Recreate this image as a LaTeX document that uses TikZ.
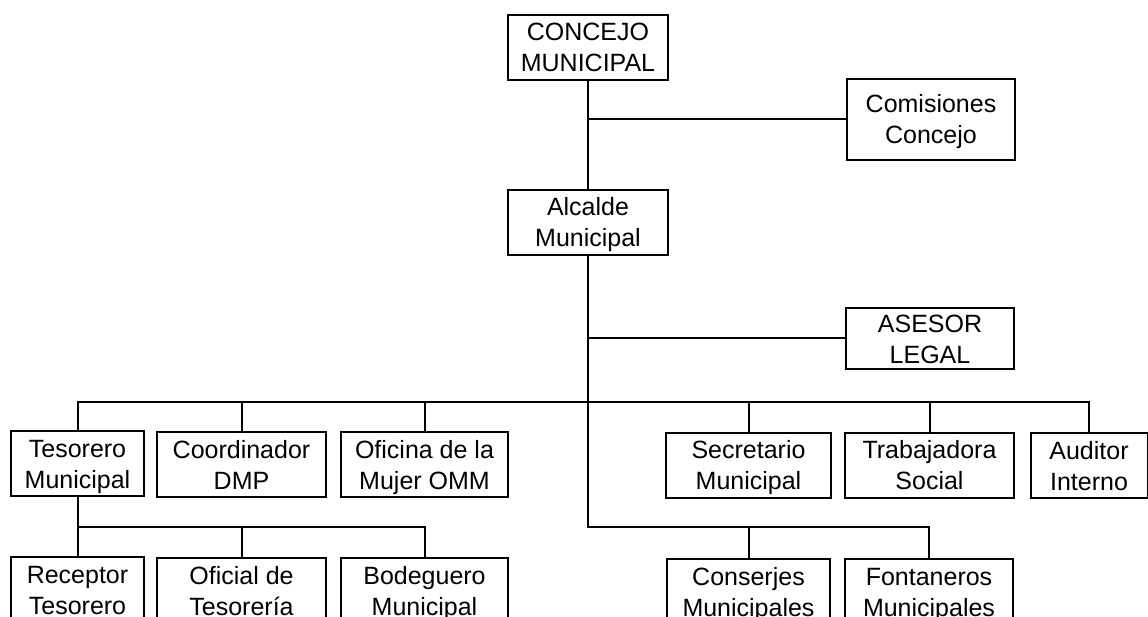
\documentclass[tikz,border=0pt]{standalone}
\usepackage{fontspec}
\setmainfont{Liberation Sans}
\usepackage{xcolor}

\begin{document}
\begin{tikzpicture}[x=1pt, y=-1pt, line width=2pt,
    caja/.style={draw, align=center, inner sep=0pt, minimum height=65pt,
      text height=51pt, text depth=2pt,
      font=\fontsize{25}{31}\selectfont}]
    \useasboundingbox (0,0) rectangle (1148,617);
    \clip (0,0) rectangle (1148,617);
    % direccion
    \node[caja, minimum width=160pt] (concejo) at (588,47.5) {CONCEJO\\MUNICIPAL};
    \node[caja, minimum width=168pt, minimum height=81pt] (comisiones) at (931,119.5) {Comisiones\\Concejo};
    \node[caja, minimum width=160pt] (alcalde) at (588,222.5) {Alcalde\\Municipal};
    \node[caja, minimum width=168pt, minimum height=61pt] (asesor) at (930,338.5) {ASESOR\\LEGAL};
    % primer nivel
    \node[caja, minimum width=133pt] (tesorero) at (77.5,463.5) {Tesorero\\Municipal};
    \node[caja, minimum width=169pt] (coordinador) at (241.5,464.5) {Coordinador\\DMP};
    \node[caja, minimum width=167pt] (oficina) at (424.5,464.5) {Oficina de la\\Mujer OMM};
    \node[caja, minimum width=165pt] (secretario) at (748.5,465) {Secretario\\Municipal};
    \node[caja, minimum width=169pt] (trabajadora) at (929.5,465) {Trabajadora\\Social};
    \node[caja, minimum width=117pt] (auditor) at (1089,465.5) {Auditor\\Interno};
    % segundo nivel
    \node[caja, minimum width=133pt] (receptor) at (77.5,589.5) {Receptor\\Tesorero};
    \node[caja, minimum width=169pt] (oficial) at (241.5,590.5) {Oficial de\\Tesorería};
    \node[caja, minimum width=167pt] (bodeguero) at (424.5,590.5) {Bodeguero\\Municipal};
    \node[caja, minimum width=163pt] (conserjes) at (748.5,591.5) {Conserjes\\Municipales};
    \node[caja, minimum width=168pt] (fontaneros) at (929,591.5) {Fontaneros\\Municipales};
    \coordinate (bus) at (588,402);
    \coordinate (sub) at (588,527);
    % lineas
    \draw (concejo) -- (alcalde);
    \draw (concejo.south |- comisiones.west) -- (comisiones.west);
    \draw (alcalde.south) -- (sub) -| (fontaneros.north);
    \draw (alcalde.south |- asesor.west) -- (asesor.west);
    \draw (tesorero.north) |- (auditor.north |- bus) -- (auditor.north);
    \foreach \n in {coordinador, oficina, secretario, trabajadora}
      \draw (\n.north) -- (\n.north |- bus);
    \draw (conserjes.north) -- (conserjes.north |- sub);
    \draw (tesorero.south) -- (receptor.north);
    \draw (tesorero.south |- sub) -| (bodeguero.north);
    \draw (oficial.north) -- (oficial.north |- sub);
\end{tikzpicture}
\end{document}
